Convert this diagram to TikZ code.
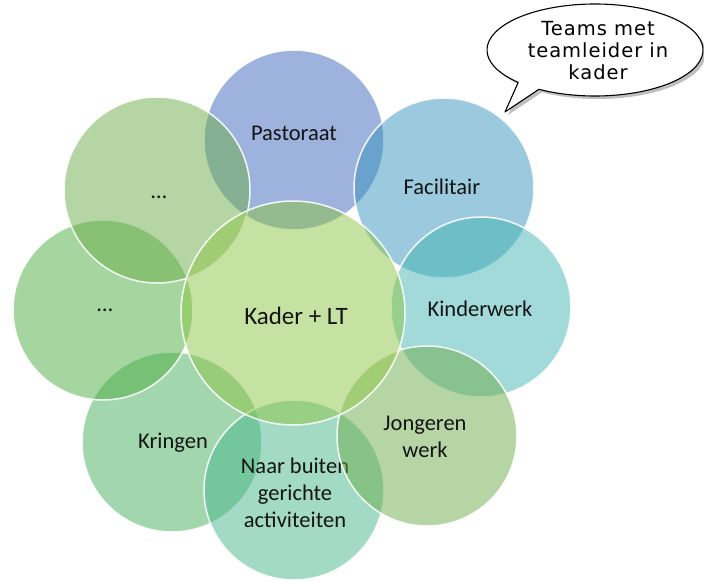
\documentclass[tikz,border=0pt]{standalone}
\usepackage{fontspec}
\usetikzlibrary{calc}
\setmainfont{Carlito}
\newfontfamily\handfont[LetterSpace=5]{DejaVu Sans}
\definecolor{cPast}{RGB}{59,103,187}
\definecolor{cFac}{RGB}{55,147,189}
\definecolor{cKind}{RGB}{67,181,179}
\definecolor{cJong}{RGB}{109,171,73}
\definecolor{cNaar}{RGB}{71,181,141}
\definecolor{cKring}{RGB}{69,175,93}
\definecolor{cLeft}{RGB}{77,173,65}
\definecolor{cTopL}{RGB}{107,173,73}
\definecolor{cKader}{RGB}{141,197,69}
\definecolor{txt}{RGB}{20,20,20}
\begin{document}
\begin{tikzpicture}[x=1pt,y=1pt,
  venn/.style={circle, inner sep=0pt, minimum size=180pt, draw=white, line width=1.5pt, fill opacity=0.5, draw opacity=0.9},
  lbl/.style={font=\fontsize{22.5}{27}\selectfont, text=txt, align=center, inner sep=0pt},
  bubble/.style={fill=white, draw=black, line width=1.1pt, line join=round},
  bshadow/.style={fill=black, fill opacity=0.25, draw=none}]
\useasboundingbox (0,0) rectangle (704,-583);

% outer circles (drawn in layering order)
\node[venn, fill=cPast] (past) at (294,-140) {};
\node[lbl] (pastT) at (294,-133) {Pastoraat};

\node[venn, fill=cFac] (fac) at (444,-188) {};
\node[lbl] (facT) at (442,-187) {Facilitair};

\node[venn, fill=cKind] (kind) at (481,-307) {};
\node[lbl] (kindT) at (480,-309) {Kinderwerk};

\node[venn, fill=cKring] (kring) at (172,-442) {};
\node[lbl] (kringT) at (173,-443) {Kringen};

\node[venn, fill=cNaar] (naar) at (294,-490) {};
\node[lbl] (naarT) at (295,-493) {Naar buiten\\gerichte\\activiteiten};

\node[venn, fill=cJong] (jong) at (427,-436) {};
\node[lbl] (jongT) at (425,-437) {Jongeren\\werk};

\node[venn, fill=cLeft] (left) at (103,-310) {};
\node[lbl] (leftT) at (105,-310) {…};

\node[venn, fill=cTopL, minimum size=186pt] (topl) at (157,-190) {};
\node[lbl] (toplT) at (159,-197) {…};

% central circle
\node[venn, fill=cKader, minimum size=224pt] (kader) at (293,-313) {};
\node[lbl, font=\fontsize{25}{30}\selectfont] (kaderT) at (296,-316) {Kader + LT};

% speech bubble
\coordinate (tip) at (505,-112);
\coordinate (bc) at (595,-50);
\fill[bshadow] ($(bc)+(238.7:108 and 46)+(3,-3)$)
  arc[start angle=238.7, end angle=584.7, x radius=108, y radius=46]
  -- ($(tip)+(3,-3)$) -- cycle;
\draw[bubble] ($(bc)+(238.7:108 and 46)$)
  arc[start angle=238.7, end angle=584.7, x radius=108, y radius=46]
  -- (tip) -- cycle;
\node[font=\handfont\fontsize{19.5}{22}\selectfont, align=center, inner sep=0pt] (bubbleT) at (598,-51) {Teams met\\teamleider in\\kader};
\end{tikzpicture}
\end{document}
